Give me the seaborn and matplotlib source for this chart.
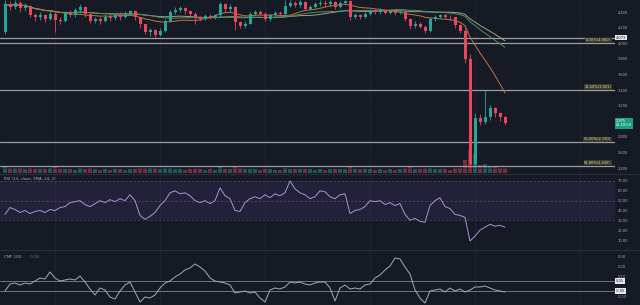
import numpy as np
import pandas as pd
import matplotlib
matplotlib.use("Agg")
import matplotlib.pyplot as plt
import seaborn as sns
from matplotlib.transforms import blended_transform_factory as btf

# ---------------- data ----------------
first_open = 4.14
closes = [4.50, 4.47, 4.52, 4.45, 4.48, 4.36, 4.33, 4.36, 4.31, 4.38,
          4.30, 4.28, 4.39, 4.36, 4.42, 4.47, 4.37, 4.29, 4.31, 4.28,
          4.34, 4.32, 4.36, 4.33, 4.38, 4.41, 4.33, 4.24, 4.14, 4.17,
          4.11, 4.16, 4.29, 4.40, 4.43, 4.45, 4.41, 4.38, 4.33, 4.31,
          4.35, 4.33, 4.36, 4.50, 4.44, 4.47, 4.27, 4.22, 4.25, 4.38,
          4.40, 4.37, 4.31, 4.36, 4.39, 4.37, 4.48, 4.51, 4.49, 4.53,
          4.44, 4.47, 4.50, 4.52, 4.50, 4.53, 4.46, 4.51, 4.54, 4.33,
          4.36, 4.34, 4.38, 4.42, 4.40, 4.43, 4.39, 4.41, 4.39, 4.40,
          4.31, 4.22, 4.25, 4.21, 4.16, 4.31, 4.34, 4.36, 4.34, 4.33,
          4.23, 4.16, 3.80, 2.45, 3.04, 2.99, 3.05, 3.17, 3.10, 3.05,
          2.975]
highs = [4.55, 4.54, 4.55, 4.54, 4.52, 4.49, 4.39, 4.40, 4.38, 4.41,
         4.40, 4.33, 4.41, 4.43, 4.45, 4.50, 4.48, 4.38, 4.34, 4.33,
         4.36, 4.37, 4.39, 4.40, 4.41, 4.43, 4.42, 4.34, 4.25, 4.20,
         4.18, 4.19, 4.31, 4.42, 4.47, 4.48, 4.46, 4.43, 4.40, 4.35,
         4.37, 4.38, 4.38, 4.53, 4.51, 4.50, 4.48, 4.29, 4.28, 4.40,
         4.43, 4.42, 4.40, 4.38, 4.41, 4.41, 4.55, 4.55, 4.54, 4.55,
         4.54, 4.49, 4.53, 4.55, 4.55, 4.55, 4.54, 4.54, 4.56, 4.55,
         4.39, 4.38, 4.40, 4.44, 4.44, 4.45, 4.44, 4.43, 4.42, 4.43,
         4.41, 4.32, 4.28, 4.27, 4.23, 4.33, 4.36, 4.38, 4.38, 4.36,
         4.34, 4.24, 4.20, 3.86, 3.10, 3.09, 3.40, 3.21, 3.18, 3.12,
         3.07]
lows = [4.12, 4.43, 4.44, 4.40, 4.41, 4.33, 4.28, 4.30, 4.27, 4.30,
        4.15, 4.24, 4.27, 4.33, 4.34, 4.39, 4.34, 4.26, 4.26, 4.25,
        4.27, 4.29, 4.30, 4.30, 4.32, 4.36, 4.30, 4.20, 4.12, 4.09,
        4.07, 4.09, 4.15, 4.27, 4.38, 4.40, 4.38, 4.35, 4.25, 4.28,
        4.30, 4.31, 4.31, 4.34, 4.40, 4.40, 4.17, 4.19, 4.19, 4.24,
        4.36, 4.35, 4.29, 4.29, 4.34, 4.35, 4.36, 4.46, 4.46, 4.47,
        4.42, 4.42, 4.45, 4.48, 4.47, 4.48, 4.44, 4.45, 4.49, 4.30,
        4.31, 4.31, 4.32, 4.36, 4.37, 4.38, 4.37, 4.37, 4.36, 4.37,
        4.28, 4.18, 4.19, 4.19, 4.13, 4.15, 4.29, 4.32, 4.32, 4.30,
        4.20, 4.13, 3.75, 2.40, 2.40, 2.95, 2.96, 3.02, 3.06, 3.00,
        2.95]
volumes = [2.4, 1.8, 1.6, 1.9, 1.5, 1.7, 1.4, 1.3, 1.5, 1.6,
           2.6, 1.5, 1.4, 1.3, 1.2, 1.6, 1.5, 1.7, 1.3, 1.2,
           1.3, 1.2, 1.4, 1.3, 1.2, 1.5, 1.4, 1.8, 1.9, 1.6,
           1.7, 1.5, 1.6, 1.8, 1.4, 1.3, 1.2, 1.4, 1.5, 1.3,
           1.2, 1.3, 1.2, 2.0, 1.5, 1.4, 2.5, 1.6, 1.4, 1.5,
           1.3, 1.2, 1.4, 1.3, 1.2, 1.2, 1.8, 1.5, 1.4, 1.3,
           1.5, 1.3, 1.2, 1.3, 1.2, 1.3, 1.4, 1.3, 1.5, 2.4,
           1.5, 1.3, 1.4, 1.3, 1.2, 1.3, 1.2, 1.3, 1.2, 1.3,
           1.8, 2.0, 1.5, 1.4, 1.7, 1.8, 1.4, 1.3, 1.3, 1.2,
           1.6, 1.7, 4.5, 8.0, 6.5, 2.8, 3.2, 2.2, 2.0, 1.8,
           1.9]
rsi = [36, 43, 41, 38, 40, 37, 39, 40, 38, 41,
       40, 43, 44, 48, 49, 50, 46, 44, 47, 50,
       48, 51, 49, 52, 50, 56, 50, 35, 31, 34,
       38, 45, 50, 58, 60, 57, 58, 55, 50, 48,
       50, 47, 50, 63, 55, 52, 40, 39, 48, 52,
       54, 52, 56, 53, 57, 55, 58, 70, 62, 58,
       56, 52, 54, 60, 59, 54, 52, 56, 57, 37,
       40, 41, 44, 50, 49, 50, 46, 48, 45, 47,
       36, 30, 32, 29, 28, 45, 50, 53, 44, 42,
       36, 35, 33, 9, 14, 20, 23, 26, 24, 25,
       23]
cmf = [-0.05, 0.02, 0.03, 0.01, 0.03, 0.02, 0.05, 0.08, 0.07, 0.14,
       0.08, 0.05, 0.06, 0.07, 0.06, 0.10, 0.04, -0.03, -0.09, -0.02,
       -0.04, -0.11, -0.13, -0.05, 0.01, 0.04, -0.06, -0.16, -0.11, -0.12,
       -0.09, -0.02, 0.03, 0.05, 0.09, 0.12, 0.16, 0.18, 0.22, 0.19,
       0.15, 0.08, 0.05, 0.04, 0.03, 0.01, -0.07, -0.06, -0.05, -0.07,
       -0.06, -0.12, -0.16, -0.04, -0.02, -0.03, -0.01, 0.04, 0.03, 0.04,
       0.02, 0.01, 0.03, 0.04, 0.04, -0.02, -0.15, -0.02, 0.01, -0.03,
       -0.02, -0.03, 0.01, 0.02, 0.08, 0.11, 0.16, 0.20, 0.28, 0.27,
       0.19, 0.12, -0.04, -0.12, -0.17, -0.05, -0.04, -0.03, -0.06, -0.02,
       -0.05, -0.03, -0.06, -0.04, -0.01, -0.01, 0.00, -0.02, -0.04, -0.05,
       -0.06]
fib_levels = [4.000, 3.401, 2.730, 2.430]
fib_labels = ["0.00%(4.000)", "23.60%(3.401)", "50.00%(2.730)", "61.80%(2.430)"]
hline_price = 4.073
price_ticks = [2.4, 2.6, 2.8, 3.2, 3.4, 3.6, 3.8, 4.0, 4.2, 4.4]
rsi_ticks = [10, 20, 30, 40, 50, 60, 70]
cmf_ticks = [-0.1, 0.1, 0.2, 0.3]
last_label = "2.975\n01:18:59"

# ---------------- style ----------------
BG = "#161a25"
GREEN = "#26a69a"
RED = "#e8475c"
TXT = "#a9adb8"
sns.set_theme(style="dark", rc={"axes.facecolor": BG, "figure.facecolor": BG,
                                "axes.edgecolor": BG, "grid.color": "#20242f",
                                "patch.edgecolor": "none", "patch.linewidth": 0})
plt.rcParams["font.family"] = ["DejaVu Sans"]

W, H = 640, 305
fig = plt.figure(figsize=(6.4, 3.05), dpi=100)


def rect(x0, y0, x1, y1):
    return [x0 / W, 1 - y1 / H, (x1 - x0) / W, (y1 - y0) / H]


RIGHT = 615
ax_vol = fig.add_axes(rect(0, 0, RIGHT, 173))
ax = fig.add_axes(rect(0, 0, RIGHT, 173), sharex=ax_vol)
ax.set_facecolor("none")
ax.set_zorder(3)
ax_rsi = fig.add_axes(rect(0, 174, RIGHT, 249), sharex=ax_vol)
ax_cmf = fig.add_axes(rect(0, 250, RIGHT, 305), sharex=ax_vol)

n = len(closes)
df = pd.DataFrame({"idx": np.arange(n), "close": closes, "high": highs,
                   "low": lows, "vol": volumes, "rsi": rsi, "cmf": cmf})
df["open"] = [first_open] + closes[:-1]
df["up"] = df["close"] >= df["open"]
cols = np.where(df["up"], GREEN, RED)
df["ma_fast"] = df["close"].rolling(12, min_periods=1).mean()
df["ma_mid"] = df["close"].rolling(30, min_periods=1).mean()
df["ma_slow"] = df["close"].rolling(36, min_periods=1).mean()

# volume
ax_vol.bar(df["idx"], df["vol"], width=0.7, color=cols, alpha=0.45, lw=0)
ax_vol.set_ylim(0, 60)
ax_vol.set_yticks([])

# candles
ax.vlines(df["idx"], df["low"], df["high"], colors=cols, lw=0.6, zorder=4)
body = np.maximum((df["close"] - df["open"]).abs(), 0.006)
ax.bar(df["idx"], body, bottom=np.minimum(df["open"], df["close"]),
       width=0.6, color=cols, lw=0, zorder=5)

# moving averages
sns.lineplot(data=df, x="idx", y="ma_slow", ax=ax, color="#a39e8c", lw=0.7, zorder=3)
sns.lineplot(data=df, x="idx", y="ma_mid", ax=ax, color="#4f8f62", lw=0.7, zorder=3)
sns.lineplot(data=df, x="idx", y="ma_fast", ax=ax, color="#c2733b", lw=0.7, zorder=3)

# horizontal levels
tr = btf(ax.transAxes, ax.transData)
ax.axhline(hline_price, color="#9a9da6", lw=0.9, zorder=2)
for lv, lb in zip(fib_levels, fib_labels):
    ax.axhline(lv, color="#9a9da6", lw=0.9, zorder=2)
    ax.text(611 / RIGHT, lv + 0.012, lb, transform=tr, ha="right", va="bottom",
            fontsize=2.6, color="#dcd79a", zorder=6,
            bbox=dict(boxstyle="square,pad=0.15", fc="#3a3b2b", ec="none"))

ax.set_ylim(2.336, 4.554)
ax.set_yticks(price_ticks)
ax.set_yticklabels([f"{t:.3f}" for t in price_ticks])
ax.text(1.0 + 1 / RIGHT, hline_price, "4.073", transform=tr, ha="left", va="center",
        fontsize=2.6, color="#161a25", zorder=7, clip_on=False,
        bbox=dict(boxstyle="square,pad=0.25", fc="#e8e8e8", ec="none"))
ax.text(1.0 + 1 / RIGHT, closes[-1], last_label, transform=tr, ha="left", va="center",
        fontsize=2.5, color="white", zorder=7, clip_on=False, linespacing=1.2,
        bbox=dict(boxstyle="square,pad=0.3", fc="#1f9e84", ec="none"))

# RSI
ax_rsi.axhspan(30, 70, color="#7e57c2", alpha=0.13, lw=0)
for lv, al in ((70, 0.35), (50, 0.35), (30, 0.35)):
    ax_rsi.axhline(lv, color="#b2b5be", lw=0.5, ls=(0, (3, 3)), alpha=al)
sns.lineplot(data=df, x="idx", y="rsi", ax=ax_rsi, color="#a596d6", lw=0.7)
ax_rsi.set_ylim(0.85, 77.1)
ax_rsi.set_yticks(rsi_ticks)
ax_rsi.set_yticklabels([f"{t:.2f}" for t in rsi_ticks])
ax_rsi.text(4 / RIGHT, 0.94, "RSI (14, close, SMA, 14, 2)", transform=ax_rsi.transAxes,
            ha="left", va="center", fontsize=2.8, color=TXT)

# CMF
for lv in (0.05, -0.05):
    ax_cmf.axhline(lv, color="#9a9da6", lw=0.6, alpha=0.8)
sns.lineplot(data=df, x="idx", y="cmf", ax=ax_cmf, color="#9bb3a8", lw=0.7)
ax_cmf.set_ylim(-0.19, 0.36)
ax_cmf.set_yticks(cmf_ticks)
ax_cmf.set_yticklabels([f"{t:.2f}" for t in cmf_ticks])
ax_cmf.text(4 / RIGHT, 0.88, "CMF (20)", transform=ax_cmf.transAxes,
            ha="left", va="center", fontsize=2.8, color=TXT)
ax_cmf.text(30 / RIGHT, 0.88, "-0.05", transform=ax_cmf.transAxes,
            ha="left", va="center", fontsize=2.8, color="#6f7380")
trc = btf(ax_cmf.transAxes, ax_cmf.transData)
for lv, lb in ((0.05, "0.05"), (-0.05, "-0.05")):
    ax_cmf.text(1.0 + 1 / RIGHT, lv, lb, transform=trc, ha="left", va="center",
                fontsize=2.6, color="#161a25", clip_on=False,
                bbox=dict(boxstyle="square,pad=0.25", fc="#e8e8e8", ec="none"))

# common axis styling
grid_x = [10, 31, 52, 73, 94, 115]
ax_vol.set_xlim(-1, 122)
ax_vol.set_xticks(grid_x)
for a in (ax_vol, ax, ax_rsi, ax_cmf):
    a.set_xlabel("")
    a.set_ylabel("")
    a.tick_params(axis="x", bottom=False, labelbottom=False)
    a.yaxis.tick_right()
    a.tick_params(axis="y", length=0, pad=2.2, labelsize=2.6, labelcolor=TXT)
    for s in a.spines.values():
        s.set_visible(False)
ax_vol.grid(axis="x", color="#232733", lw=0.5)
ax_vol.grid(axis="y", visible=False)
ax.grid(axis="y", color="#1d2130", lw=0.4)
ax.grid(axis="x", visible=False)
ax_rsi.grid(axis="x", color="#232733", lw=0.5)
ax_rsi.grid(axis="y", visible=False)
ax_cmf.grid(axis="x", color="#232733", lw=0.5)
ax_cmf.grid(axis="y", visible=False)

# panel separators
fig.add_artist(plt.Line2D([0, 1], [1 - 173.5 / H] * 2, color="#2a2e39", lw=0.8))
fig.add_artist(plt.Line2D([0, 1], [1 - 249.5 / H] * 2, color="#2a2e39", lw=0.8))

fig.savefig("out.png", dpi=100, facecolor=BG)
